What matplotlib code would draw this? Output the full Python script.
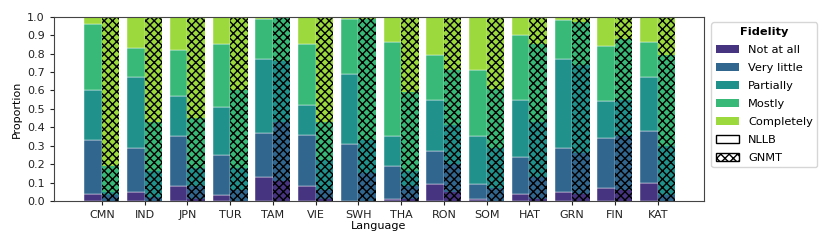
import matplotlib
matplotlib.use('Agg')
import matplotlib.pyplot as plt
import matplotlib.patches as mpatches
import numpy as np

# Languages and fidelity categories
languages = ['CMN', 'IND', 'JPN', 'TUR', 'TAM', 'VIE', 'SWH', 'THA',
             'RON', 'SOM', 'HAT', 'GRN', 'FIN', 'KAT']
categories = ['Not at all', 'Very little', 'Partially', 'Mostly', 'Completely']

# Proportions per language: [Not at all, Very little, Partially, Mostly, Completely]
nllb = [
    [0.04, 0.29, 0.27, 0.36, 0.04],  # CMN
    [0.05, 0.24, 0.38, 0.16, 0.17],  # IND
    [0.08, 0.27, 0.22, 0.25, 0.18],  # JPN
    [0.03, 0.22, 0.26, 0.34, 0.15],  # TUR
    [0.13, 0.24, 0.40, 0.22, 0.01],  # TAM
    [0.08, 0.28, 0.16, 0.33, 0.15],  # VIE
    [0.00, 0.31, 0.38, 0.30, 0.01],  # SWH
    [0.01, 0.18, 0.16, 0.51, 0.14],  # THA
    [0.09, 0.18, 0.28, 0.24, 0.21],  # RON
    [0.01, 0.08, 0.26, 0.36, 0.29],  # SOM
    [0.04, 0.20, 0.31, 0.35, 0.10],  # HAT
    [0.05, 0.24, 0.48, 0.21, 0.02],  # GRN
    [0.07, 0.27, 0.20, 0.30, 0.16],  # FIN
    [0.10, 0.28, 0.29, 0.19, 0.14],  # KAT
]
gnmt = [
    [0.00, 0.03, 0.02, 0.14, 0.81],  # CMN
    [0.00, 0.02, 0.14, 0.27, 0.57],  # IND
    [0.01, 0.07, 0.10, 0.27, 0.55],  # JPN
    [0.00, 0.06, 0.12, 0.42, 0.40],  # TUR
    [0.11, 0.32, 0.33, 0.24, 0.00],  # TAM
    [0.01, 0.05, 0.16, 0.21, 0.57],  # VIE
    [0.00, 0.15, 0.18, 0.66, 0.01],  # SWH
    [0.01, 0.07, 0.08, 0.43, 0.41],  # THA
    [0.05, 0.15, 0.21, 0.30, 0.29],  # RON
    [0.00, 0.07, 0.22, 0.32, 0.39],  # SOM
    [0.01, 0.12, 0.30, 0.42, 0.15],  # HAT
    [0.04, 0.22, 0.48, 0.23, 0.03],  # GRN
    [0.06, 0.29, 0.20, 0.33, 0.12],  # FIN
    [0.00, 0.03, 0.27, 0.49, 0.21],  # KAT
]

colors = plt.cm.viridis(np.linspace(0.15, 0.85, 5))
plt.rcParams['hatch.color'] = 'black'
plt.rcParams['hatch.linewidth'] = 1.0

fig = plt.figure(figsize=(8.3, 2.49), dpi=100)
ax = fig.add_axes([0.065, 0.193, 0.783, 0.74])

x = np.arange(len(languages))
width = 0.41
nllb_arr = np.array(nllb)
gnmt_arr = np.array(gnmt)

bottom_n = np.zeros(len(languages))
bottom_g = np.zeros(len(languages))
for i, cat in enumerate(categories):
    ax.bar(x - width / 2, nllb_arr[:, i], width, bottom=bottom_n,
           color=colors[i], edgecolor='white', linewidth=0.3)
    ax.bar(x + width / 2, gnmt_arr[:, i], width, bottom=bottom_g,
           color=colors[i], hatch='xxxx')
    bottom_n += nllb_arr[:, i]
    bottom_g += gnmt_arr[:, i]

ax.set_xticks(x)
ax.set_xticklabels(languages, fontsize=8)
ax.set_yticks(np.arange(0, 1.01, 0.1))
ax.set_yticklabels(['%.1f' % v for v in np.arange(0, 1.01, 0.1)], fontsize=8)
ax.set_ylim(0, 1)
ax.set_xlim(-1.12, 14.08)
ax.set_xlabel('Language', fontsize=8, labelpad=1)
ax.set_ylabel('Proportion', fontsize=8)
for s in ax.spines.values():
    s.set_color('#444444')
ax.tick_params(colors='#222222', length=3)

handles = [mpatches.Patch(facecolor=colors[i], label=c) for i, c in enumerate(categories)]
handles.append(mpatches.Patch(facecolor='white', edgecolor='black', label='NLLB'))
handles.append(mpatches.Patch(facecolor='white', edgecolor='black', hatch='xxxx', label='GNMT'))
leg = ax.legend(handles=handles, title='Fidelity', loc='upper left',
                bbox_to_anchor=(1.003, 1.0), fontsize=8.2, labelspacing=0.7,
                title_fontproperties={'weight': 'bold', 'size': 8.2})

plt.savefig('out.png', dpi=100)
